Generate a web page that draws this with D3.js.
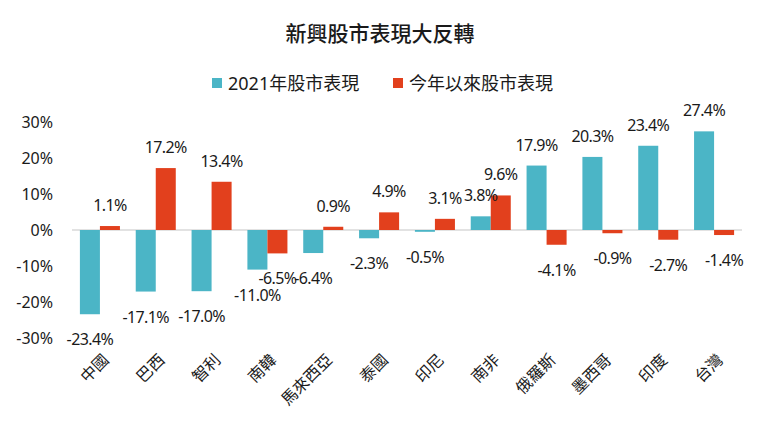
<!DOCTYPE html>
<html>
<head>
<meta charset="utf-8">
<script src="https://cdn.jsdelivr.net/npm/d3@7"></script>
<style>
  body { margin: 0; background: #fff; }
  text { font-family: "Noto Sans", "Noto Sans CJK TC", sans-serif; fill: #1a1a1a; }
</style>
</head>
<body>
<svg id="chart"></svg>
<script>
// data
var categories = ["中國", "巴西", "智利", "南韓", "馬來西亞", "泰國", "印尼", "南非", "俄羅斯", "墨西哥", "印度", "台灣"];
var series = ["2021年股市表現", "今年以來股市表現"];
var values2021 = [-23.4, -17.1, -17.0, -11.0, -6.4, -2.3, -0.5, 3.8, 17.9, 20.3, 23.4, 27.4];
var valuesYtd = [1.1, 17.2, 13.4, -6.5, 0.9, 4.9, 3.1, 9.6, -4.1, -0.9, -2.7, -1.4];
var yTicks = [-30, -20, -10, 0, 10, 20, 30];

var width = 760,
    height = 429;

var color = d3.scaleOrdinal().domain(series).range(["#4bb5c6", "#e2401d"]);

var svg = d3.select("#chart")
  .attr("width", width)
  .attr("height", height);

var x0 = d3.scaleBand()
  .domain(categories)
  .range([72, 742])
  .paddingInner(0.283)
  .paddingOuter(0.1415);

var x1 = d3.scaleBand()
  .domain(series)
  .range([0, x0.bandwidth()]);

var y = d3.scaleLinear()
  .domain([-30, 30])
  .range([338, 122]);

// title
svg.append("text")
  .attr("x", 380)
  .attr("y", 41)
  .attr("text-anchor", "middle")
  .style("font-size", "21px")
  .style("font-weight", 500)
  .text("新興股市表現大反轉");

// legend
var legendX = [212, 393];
var legend = svg.selectAll(".legend")
  .data(series)
  .join("g")
  .attr("class", "legend")
  .attr("transform", function(d, i) { return "translate(" + legendX[i] + ",0)"; });

legend.append("rect")
  .attr("x", 0)
  .attr("y", 78)
  .attr("width", 10)
  .attr("height", 10)
  .attr("fill", function(d) { return color(d); });

legend.append("text")
  .attr("x", 16)
  .attr("y", 90)
  .style("font-size", "18px")
  .text(function(d) { return d; });

// y axis labels (no line, no ticks)
svg.append("g")
  .selectAll("text")
  .data(yTicks)
  .join("text")
  .attr("x", 53)
  .attr("y", function(d) { return y(d); })
  .attr("dy", "0.36em")
  .attr("text-anchor", "end")
  .style("font-size", "16px")
  .text(function(d) { return d + "%"; });

// zero line
svg.append("line")
  .attr("x1", 72)
  .attr("x2", 742)
  .attr("y1", y(0))
  .attr("y2", y(0))
  .attr("stroke", "#d9d9d9")
  .attr("stroke-width", 1.5);

// build rows
var rows = categories.map(function(c, i) {
  return { cat: c, vals: [
    { key: series[0], value: values2021[i] },
    { key: series[1], value: valuesYtd[i] }
  ]};
});

var groups = svg.append("g")
  .selectAll("g")
  .data(rows)
  .join("g")
  .attr("transform", function(d) { return "translate(" + x0(d.cat) + ",0)"; });

groups.selectAll("rect")
  .data(function(d) { return d.vals; })
  .join("rect")
  .attr("x", function(d) { return x1(d.key); })
  .attr("width", x1.bandwidth())
  .attr("y", function(d) { return y(Math.max(0, d.value)); })
  .attr("height", function(d) { return Math.abs(y(d.value) - y(0)); })
  .attr("fill", function(d) { return color(d.key); });

groups.selectAll("text")
  .data(function(d) { return d.vals; })
  .join("text")
  .attr("x", function(d) { return x1(d.key) + x1.bandwidth() / 2; })
  .attr("y", function(d) { return d.value >= 0 ? y(d.value) - 15 : y(d.value) + 31; })
  .attr("text-anchor", "middle")
  .style("font-size", "16px")
  .style("letter-spacing", "-0.6px")
  .text(function(d) { return d.value.toFixed(1) + "%"; });

// rotated category labels
svg.append("g")
  .selectAll("text")
  .data(categories)
  .join("text")
  .attr("text-anchor", "end")
  .attr("transform", function(d) {
    return "translate(" + (x0(d) + x0.bandwidth() / 2 + 6) + ",357) rotate(-45)";
  })
  .attr("dy", "0.35em")
  .style("font-size", "16px")
  .text(function(d) { return d; });
</script>
</body>
</html>
